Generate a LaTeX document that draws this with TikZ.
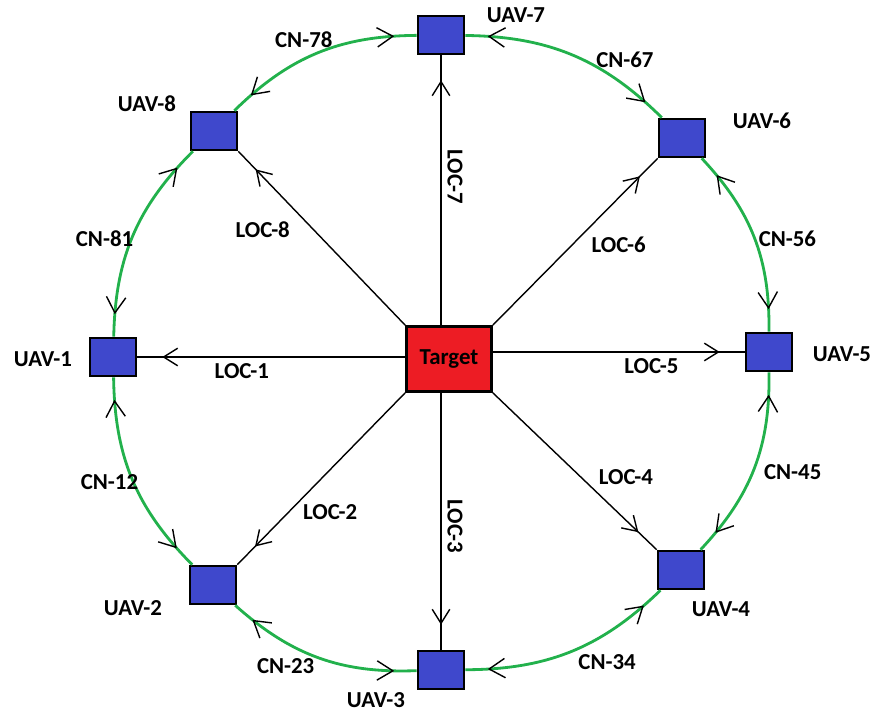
\documentclass[tikz,border=0pt]{standalone}
\usepackage{fontspec}
\setmainfont{Carlito}
\usetikzlibrary{arrows.meta,decorations.markings}

\definecolor{uavblue}{RGB}{63,72,204}
\definecolor{tgtred}{RGB}{237,28,36}
\definecolor{linkgreen}{RGB}{34,177,76}

\tikzset{
  uav/.style={draw, line width=1.5pt, fill=uavblue, minimum width=0.92cm, minimum height=0.76cm, inner sep=0pt},
  tgt/.style={draw, line width=1.5pt, fill=tgtred, minimum width=1.70cm, minimum height=1.30cm},
  loc/.style={line width=0.8pt, postaction={decorate},
    decoration={markings,
      mark=at position -0.5cm with {\arrow{Straight Barb[length=8pt,width=10pt]}}}},
  cn/.style={draw=linkgreen, line width=1.6pt, postaction={decorate},
    decoration={markings,
      mark=at position 0.45cm with {\pgfsetstrokecolor{black}\pgfsetlinewidth{0.8pt}\arrowreversed{Straight Barb[length=9pt,width=11pt]}},
      mark=at position -0.45cm with {\pgfsetstrokecolor{black}\pgfsetlinewidth{0.8pt}\arrow{Straight Barb[length=9pt,width=11pt]}}}},
}

\begin{document}
\begin{tikzpicture}[font=\fontsize{13}{15}\selectfont\bfseries]
\useasboundingbox (0,0) rectangle (17.5,14.24);

% Target and UAVs
\node[tgt] (target) at (8.98,7.06) {Target};
\node[uav] (u1) at (2.26,7.10) {};
\node[uav] (u2) at (4.26,2.54) {};
\node[uav] (u3) at (8.82,0.84) {};
\node[uav] (u4) at (13.62,2.84) {};
\node[uav] (u5) at (15.38,7.20) {};
\node[uav] (u6) at (13.64,11.48) {};
\node[uav] (u7) at (8.82,13.54) {};
\node[uav] (u8) at (4.28,11.62) {};

% UAV names
\node (n1) at (0.86,7.06) {UAV-1};
\node (n2) at (2.66,2.08) {UAV-2};
\node (n3) at (7.52,0.24) {UAV-3};
\node (n4) at (14.42,2.06) {UAV-4};
\node (n5) at (16.84,7.16) {UAV-5};
\node (n6) at (15.24,11.82) {UAV-6};
\node (n7) at (10.32,13.94) {UAV-7};
\node (n8) at (2.94,12.16) {UAV-8};

% Localisation links
\draw[loc] (target.west |- u1) -- (u1.east) node[pos=0.61, below] {LOC-1};
\draw[loc] (target.south west) -- (u2.north east) node[pos=0.57, below right, xshift=-0.26cm, yshift=-0.14cm] {LOC-2};
\draw[loc] (target.south -| u3) -- (u3.north) node[pos=0.52, rotate=-90, anchor=south] {LOC-3};
\draw[loc] (target.south east) -- (u4.north west) node[pos=0.68, above right, xshift=-0.24cm, yshift=0.16cm] {LOC-4};
\draw[loc] (target.east |- u5) -- (u5.west) node[pos=0.63, below] {LOC-5};
\draw[loc] (target.north east) -- (u6.south west) node[pos=0.62, below right, xshift=-0.2cm, yshift=-0.18cm] {LOC-6};
\draw[loc] (target.north -| u7) -- (u7.south) node[pos=0.55, rotate=-90, anchor=south] {LOC-7};
\draw[loc] (target.north west) -- (u8.south east) node[pos=0.70, below left, xshift=0.16cm, yshift=-0.24cm] {LOC-8};

% Communication links
\draw[cn] (u7) to[bend right=22] node[pos=0.52, above, xshift=-0.2cm] {CN-78} (u8);
\draw[cn] (u8) to[bend right=22] node[pos=0.58, above left, xshift=0.26cm, yshift=-0.08cm] {CN-81} (u1);
\draw[cn] (u1) to[bend right=22] node[pos=0.46, below left, xshift=0.32cm, yshift=0.1cm] {CN-12} (u2);
\draw[cn] (u2) to[bend right=22] node[pos=0.40, below, xshift=-0.32cm] {CN-23} (u3);
\draw[cn] (u3) to[bend right=22] node[pos=0.59, below, xshift=0.38cm, yshift=-0.06cm] {CN-34} (u4);
\draw[cn] (u4) to[bend right=22] node[pos=0.54, below right, yshift=0.08cm] {CN-45} (u5);
\draw[cn] (u5) to[bend right=22] node[pos=0.43, above right, xshift=-0.14cm, yshift=-0.1cm] {CN-56} (u6);
\draw[cn] (u6) to[bend right=22] node[pos=0.34, above, xshift=0.46cm, yshift=-0.1cm] {CN-67} (u7);
\end{tikzpicture}
\end{document}
